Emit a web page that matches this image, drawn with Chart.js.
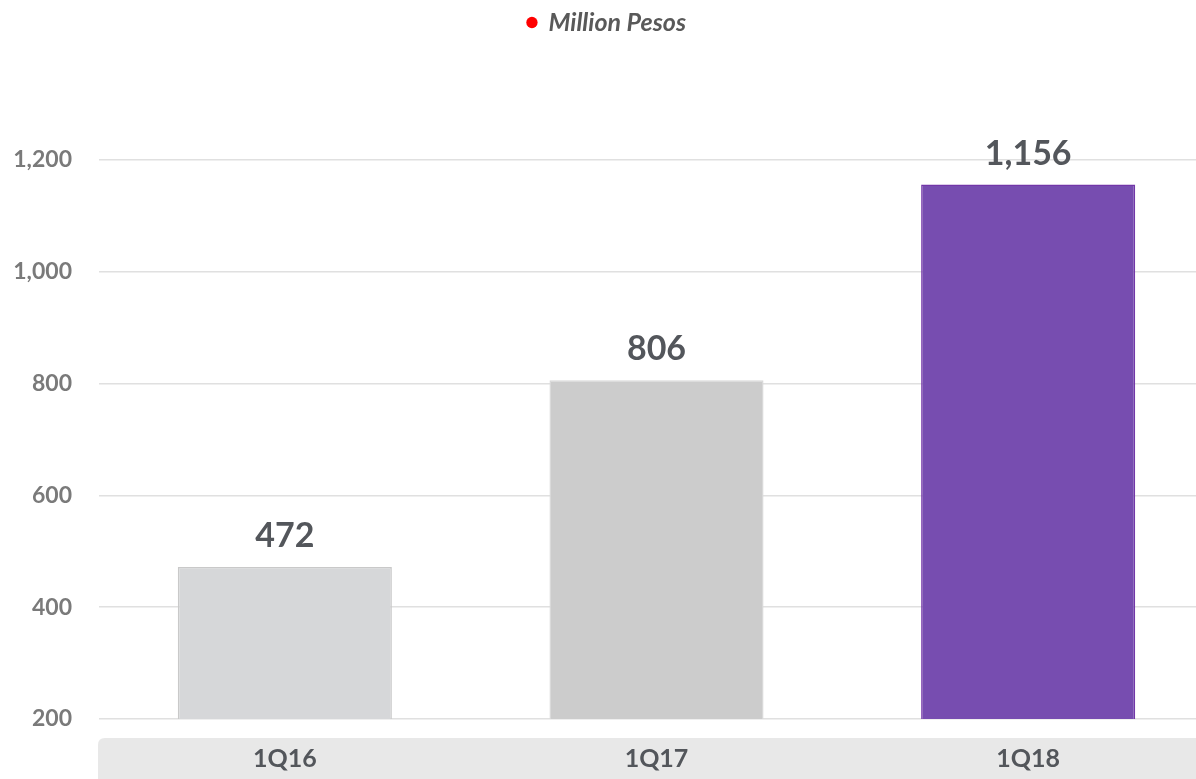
<!DOCTYPE html>
<html>
<head>
<meta charset="utf-8">
<script src="https://cdn.jsdelivr.net/npm/chart.js@4.4.1/dist/chart.umd.min.js"></script>
<style>
  html, body { margin: 0; padding: 0; background: #ffffff; overflow: hidden; width: 1196px; height: 779px; }
  #wrap { width: 1214px; height: 779px; }
</style>
</head>
<body>
<div id="wrap"><canvas id="c" width="1214" height="779"></canvas></div>
<script>
const categories = ['1Q16', '1Q17', '1Q18'];
const values = [472, 806, 1156];
const seriesName = 'Million Pesos';
const yTicks = [200, 400, 600, 800, 1000, 1200];

const barFill = ['#d6d7d9', '#cccccc', '#774db0'];
const barBorder = ['#c9c9c9', '#d9d9d9', '#7236a8'];
const FONT = 'Lato, "Open Sans", sans-serif';

const legendHeightFix = {
  id: 'legendHeightFix',
  beforeInit(chart) {
    const origFit = chart.legend.fit;
    chart.legend.fit = function () {
      origFit.bind(chart.legend)();
      this.height += 115;
    };
  }
};

const xBand = {
  id: 'xBand',
  beforeDraw(chart) {
    const { ctx, chartArea } = chart;
    const x = chartArea.left - 1, y = chartArea.bottom + 19;
    const w = chart.width - x + 10, h = 60, r = 7;
    ctx.save();
    ctx.fillStyle = '#e8e8e8';
    ctx.beginPath();
    ctx.moveTo(x + r, y);
    ctx.lineTo(x + w, y);
    ctx.lineTo(x + w, y + h);
    ctx.lineTo(x, y + h);
    ctx.lineTo(x, y + r);
    ctx.quadraticCurveTo(x, y, x + r, y);
    ctx.closePath();
    ctx.fill();
    ctx.restore();
  }
};

const valueLabels = {
  id: 'valueLabels',
  afterDatasetsDraw(chart) {
    const { ctx } = chart;
    const meta = chart.getDatasetMeta(0);
    ctx.save();
    ctx.font = 'bold 34px ' + FONT;
    ctx.fillStyle = '#53565b';
    ctx.textAlign = 'center';
    ctx.textBaseline = 'bottom';
    meta.data.forEach((bar, i) => {
      const v = chart.data.datasets[0].data[i];
      ctx.fillText(v.toLocaleString('en-US'), bar.x, bar.y - 14);
    });
    ctx.restore();
  }
};

new Chart(document.getElementById('c'), {
  type: 'bar',
  data: {
    labels: categories,
    datasets: [{
      label: seriesName,
      data: values,
      backgroundColor: barFill,
      borderColor: barBorder,
      borderWidth: 1.5,
      categoryPercentage: 1,
      barPercentage: 0.576
    }]
  },
  options: {
    responsive: false,
    animation: false,
    devicePixelRatio: 1,
    layout: { padding: { top: 0, right: 0, bottom: 0, left: 0 } },
    plugins: {
      tooltip: { enabled: false },
      legend: {
        display: true,
        position: 'top',
        align: 'center',
        onClick: null,
        labels: {
          usePointStyle: true,
          pointStyle: 'circle',
          boxWidth: 8,
          boxHeight: 8,
          padding: 10,
          color: '#595959',
          font: { family: FONT, size: 25, weight: 'bold', style: 'italic' },
          generateLabels(chart) {
            return [{
              text: seriesName,
              fillStyle: '#ff0000',
              strokeStyle: '#ff0000',
              lineWidth: 0,
              pointStyle: 'circle',
              hidden: false,
              datasetIndex: 0,
              fontColor: '#595959'
            }];
          }
        }
      }
    },
    scales: {
      x: {
        grid: { display: false, drawTicks: false },
        border: { display: false },
        ticks: {
          color: '#53565b',
          padding: 25,
          font: { family: FONT, size: 25, weight: 'bold' }
        },
        afterFit(scale) { scale.height = 60; }
      },
      y: {
        min: 200,
        max: 1200,
        afterBuildTicks(scale) { scale.ticks = yTicks.map(v => ({ value: v })); },
        grid: { color: '#e0e0e0', lineWidth: 1.5, drawTicks: false },
        border: { display: false },
        ticks: {
          color: '#7a7a7a',
          padding: 27,
          font: { family: FONT, size: 23, weight: 'bold' },
          callback: (v) => Number(v).toLocaleString('en-US')
        },
        afterFit(scale) { scale.width = 99; }
      }
    }
  },
  plugins: [legendHeightFix, xBand, valueLabels]
});
</script>
</body>
</html>
